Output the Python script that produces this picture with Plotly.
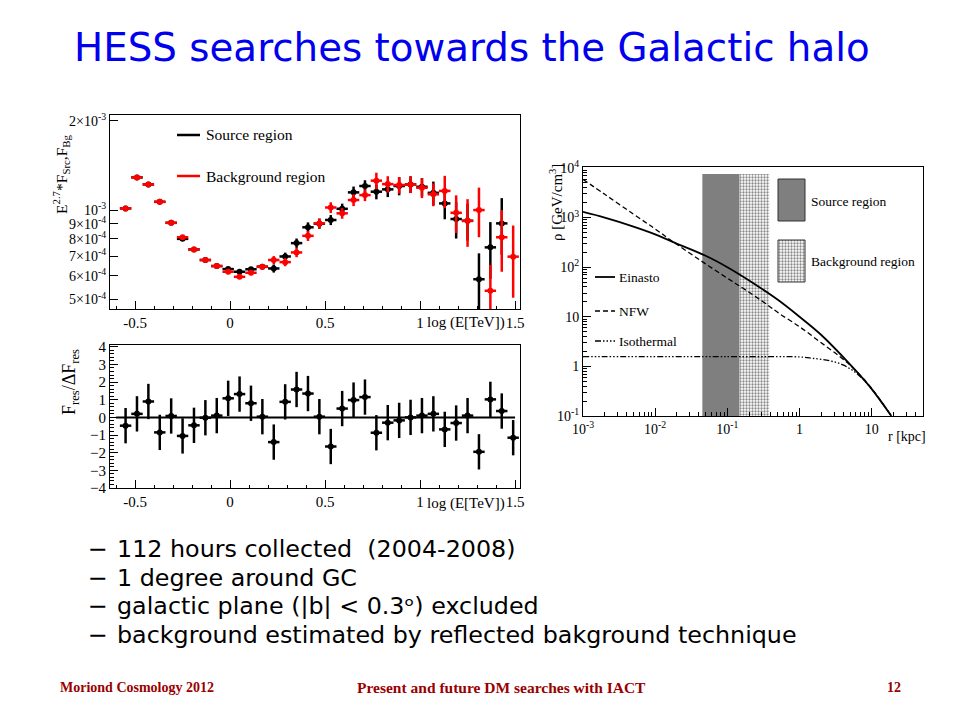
import plotly.graph_objects as go

# ---------------- data: spectrum (top-left) ----------------
log_e = [-0.55, -0.49, -0.43, -0.37, -0.31, -0.25, -0.19, -0.13, -0.07, -0.01,
         0.05, 0.11, 0.17, 0.23, 0.29, 0.35, 0.41, 0.47, 0.53, 0.59,
         0.65, 0.71, 0.77, 0.83, 0.89, 0.95, 1.01, 1.07, 1.13, 1.19,
         1.25, 1.31, 1.37, 1.43, 1.49]
# E^2.7 * F in units of 1e-4
src_flux = [10.13, 12.88, 12.2, 10.66, 9.06, 8.0, 7.37, 6.79, 6.48, 6.33,
            6.2, 6.32, 6.45, 6.36, 6.98, 7.74, 8.75, 9.0, 9.26, 10.1,
            11.47, 12.05, 11.53, 11.74, 12.05, 12.2, 11.98, 11.43, 10.53, 9.33,
            9.2, 5.85, 7.49, 9.02, None]
src_err = [0.07, 0.07, 0.07, 0.07, 0.07, 0.07, 0.07, 0.07, 0.07, 0.08,
           0.08, 0.08, 0.1, 0.2, 0.21, 0.28, 0.34, 0.35, 0.36, 0.41,
           0.53, 0.55, 0.66, 0.68, 0.84, 0.79, 0.83, 1.04, 1.22, 1.31,
           1.31, 1.3, 1.62, 1.95, None]
bg_flux = [10.13, 12.88, 12.2, 10.66, 9.06, 8.1, 7.37, 6.79, 6.48, 6.2,
           5.96, 6.15, 6.44, 6.79, 6.68, 7.2, 8.19, 9.02, 10.2, 9.75,
           10.81, 11.23, 12.56, 12.23, 12.14, 12.2, 11.89, 11.3, 11.6, 9.79,
           9.2, 10.0, 5.35, 8.1, 6.97]
bg_err = [0.07, 0.07, 0.07, 0.07, 0.07, 0.07, 0.07, 0.07, 0.07, 0.08,
          0.08, 0.08, 0.1, 0.21, 0.21, 0.26, 0.32, 0.35, 0.42, 0.40,
          0.50, 0.51, 0.80, 0.77, 0.78, 0.79, 0.92, 1.0, 1.44, 1.42,
          1.68, 1.9, 1.19, 1.9, 1.9]
bin_half_width = 0.03

# ---------------- data: residuals ----------------
resid = [-0.47, 0.2, 0.9, -0.85, 0.08, -1.05, -0.45, -0.02, 0.1, 1.08,
         1.32, 0.8, 0.04, -1.4, 0.88, 1.58, 1.35, 0.04, -1.65, 0.5,
         0.98, 1.15, -0.87, -0.3, -0.17, 0.0, 0.1, 0.2, -0.68, -0.32,
         0.1, -1.95, 1.02, 0.36, -1.15]
resid_err = [1, 1, 1, 1, 1, 1, 1, 1, 1, 1, 1, 1, 1, 1, 1, 1, 1, 1, 1, 1,
             1, 1, 1, 1, 1, 1, 1, 1, 1, 1, 1, 1, 1, 1, 1]
zero_line_x = [-0.6, 1.5]
zero_line_y = [0, 0]

# ---------------- data: halo profiles (right) ----------------
r_ein = [0.001, 0.002, 0.005, 0.01, 0.0174, 0.05, 0.1, 0.2, 0.5, 1, 2, 5, 9.4, 18.7]
rho_ein = [1300, 1000, 660, 460, 324, 170, 100, 54, 22, 10, 4.3, 1.1, 0.39, 0.1]
r_nfw = [0.001, 0.002, 0.005, 0.01, 0.0174, 0.043, 0.1, 0.148, 0.36, 0.52,
         1, 1.9, 3.6, 5.5, 9.4, 18.7]
rho_nfw = [5900, 2950, 1175, 590, 331, 135, 60, 41.7, 17.4, 11.7,
           6.3, 3.16, 1.58, 0.93, 0.40, 0.1]
r_iso = [0.001, 0.1, 1, 1.5, 2.6, 4.0, 6.2, 9.4, 18.7]
rho_iso = [1.57, 1.57, 1.55, 1.46, 1.30, 1.07, 0.72, 0.39, 0.1]
src_region_r = [0.045, 0.148]
bg_region_r = [0.148, 0.38]
region_rho = [0.1, 7600]

title_text = "HESS searches towards the Galactic halo"
bullets = ["112 hours collected \u00a0(2004-2008)",
           "1 degree around GC",
           "galactic plane (|b| &lt; 0.3\u1d52) excluded",
           "background estimated by reflected bakground technique"]
footer = ["Moriond Cosmology 2012", "Present and future DM searches with IACT", "12"]

# ---------------- layout helpers ----------------
# the page places the figure 8 px in from the window's top-left corner
OFF = 8
W, H = 960 - OFF, 720 - OFF
def px(x):
    return (x - OFF) / W
def py(y):
    return 1 - (y - OFF) / H

SERIF = "Liberation Serif"
fig = go.Figure()

def spec_trace(flux, err, color, name):
    return go.Scatter(
        x=log_e, y=[None if v is None else v * 1e-4 for v in flux],
        mode="markers", marker=dict(size=0, color=color), name=name,
        error_y=dict(type="data", array=[0 if e is None else e * 1e-4 for e in err],
                     color=color, thickness=2.5, width=0),
        error_x=dict(type="constant", value=bin_half_width, color=color,
                     thickness=2.5, width=0),
        xaxis="x", yaxis="y", showlegend=False, cliponaxis=True)

fig.add_trace(spec_trace(src_flux, src_err, "black", "Source region"))
fig.add_trace(spec_trace(bg_flux, bg_err, "#ff0000", "Background region"))

fig.add_trace(go.Scatter(x=zero_line_x, y=zero_line_y, mode="lines",
                         line=dict(color="black", width=2), xaxis="x2", yaxis="y2",
                         showlegend=False))
fig.add_trace(go.Scatter(
    x=log_e, y=resid, mode="markers", marker=dict(size=0, color="black"),
    error_y=dict(type="data", array=resid_err, color="black", thickness=2.5, width=0),
    error_x=dict(type="constant", value=bin_half_width, color="black", thickness=2.5, width=0),
    xaxis="x2", yaxis="y2", showlegend=False))

PATTERN = dict(shape=".", bgcolor="white", fgcolor="#111111", size=3, solidity=0.45)

# shaded regions
fig.add_trace(go.Scatter(
    x=[src_region_r[0], src_region_r[1], src_region_r[1], src_region_r[0], src_region_r[0]],
    y=[region_rho[0], region_rho[0], region_rho[1], region_rho[1], region_rho[0]],
    fill="toself", fillcolor="#7f7f7f", mode="lines", line=dict(width=0),
    xaxis="x3", yaxis="y3", showlegend=False))
fig.add_trace(go.Scatter(
    x=[bg_region_r[0], bg_region_r[1], bg_region_r[1], bg_region_r[0], bg_region_r[0]],
    y=[region_rho[0], region_rho[0], region_rho[1], region_rho[1], region_rho[0]],
    fill="toself", fillcolor="white", mode="lines", line=dict(width=0),
    fillpattern=PATTERN, xaxis="x3", yaxis="y3", showlegend=False))

ISO_DASH = "6px,2px,1.5px,2px,1.5px,2px,1.5px,2px"
fig.add_trace(go.Scatter(x=r_ein, y=rho_ein, mode="lines", line=dict(color="black", width=1.8, shape="spline"),
                         xaxis="x3", yaxis="y3", showlegend=False))
fig.add_trace(go.Scatter(x=r_nfw, y=rho_nfw, mode="lines",
                         line=dict(color="black", width=1.3, dash="5px,3px", shape="spline"),
                         xaxis="x3", yaxis="y3", showlegend=False))
fig.add_trace(go.Scatter(x=r_iso, y=rho_iso, mode="lines",
                         line=dict(color="black", width=1.3, dash=ISO_DASH, shape="spline"),
                         xaxis="x3", yaxis="y3", showlegend=False))

# right-panel legend (helper axes, 0..1 in the panel)
R_X0, R_X1, R_Y0, R_Y1 = 583, 923, 167, 416
def fx(x):
    return (x - R_X0) / (R_X1 - R_X0)
def fy(y):
    return (R_Y1 - y) / (R_Y1 - R_Y0)

fig.add_trace(go.Scatter(x=[fx(778), fx(805), fx(805), fx(778), fx(778)],
                         y=[fy(221), fy(221), fy(179), fy(179), fy(221)],
                         fill="toself", fillcolor="#7f7f7f", mode="lines",
                         line=dict(color="#333", width=1), xaxis="x4", yaxis="y4", showlegend=False))
fig.add_trace(go.Scatter(x=[fx(778), fx(805), fx(805), fx(778), fx(778)],
                         y=[fy(282), fy(282), fy(240), fy(240), fy(282)],
                         fill="toself", fillcolor="white", mode="lines", fillpattern=PATTERN,
                         line=dict(color="#333", width=1), xaxis="x4", yaxis="y4", showlegend=False))
for yy, dash, wd in [(277, "solid", 1.8), (311, "5px,3px", 1.3), (341, ISO_DASH, 1.3)]:
    fig.add_trace(go.Scatter(x=[fx(595), fx(615)], y=[fy(yy), fy(yy)], mode="lines",
                             line=dict(color="black", width=wd, dash=dash),
                             xaxis="x4", yaxis="y4", showlegend=False))

# ---------------- axes ----------------
tick_font = dict(family=SERIF, size=15, color="black")
tick_font_y = dict(family=SERIF, size=14, color="black")
tick_font_r = dict(family=SERIF, size=14, color="black")
common = dict(showline=True, linecolor="black", linewidth=1, mirror=True, showgrid=False,
              zeroline=False, ticks="inside", tickcolor="black", automargin=False)

TL_X = [px(110), px(520)]
fig.update_layout(
    xaxis=dict(domain=TL_X, range=[-0.632, 1.526], anchor="y", tickvals=[-0.5, 0, 0.5, 1, 1.5],
               ticktext=["-0.5", "0", "0.5", "1", "1.5"], ticklen=8, tickfont=tick_font,
               minor=dict(ticks="inside", dtick=0.1, ticklen=3, tickcolor="black"), **common),
    yaxis=dict(domain=[py(309), py(115)], type="log", range=[-3.333, -2.680], anchor="x",
               tickvals=[5e-4, 6e-4, 7e-4, 8e-4, 9e-4, 1e-3, 2e-3],
               ticktext=["5\u00d710<sup>-4</sup>", "6\u00d710<sup>-4</sup>", "7\u00d710<sup>-4</sup>",
                         "8\u00d710<sup>-4</sup>", "9\u00d710<sup>-4</sup>", "10<sup>-3</sup>",
                         "2\u00d710<sup>-3</sup>"], ticklen=8, tickfont=tick_font_y, **common),
    xaxis2=dict(domain=TL_X, range=[-0.632, 1.526], anchor="y2", tickvals=[-0.5, 0, 0.5, 1, 1.5],
                ticktext=["-0.5", "0", "0.5", "1", "1.5"], ticklen=8, tickfont=tick_font,
                minor=dict(ticks="inside", dtick=0.1, ticklen=3, tickcolor="black"), **common),
    yaxis2=dict(domain=[py(488), py(345)], range=[-4, 4.1], anchor="x2",
                tickvals=[-4, -3, -2, -1, 0, 1, 2, 3, 4], ticklen=8, tickfont=tick_font,
                minor=dict(ticks="inside", dtick=0.2, ticklen=4, tickcolor="black"), **common),
    xaxis3=dict(domain=[px(R_X0), px(R_X1)], type="log", range=[-3, 1.71], anchor="y3",
                tickvals=[1e-3, 1e-2, 1e-1, 1, 10], tickfont=tick_font_r,
                ticktext=["10<sup>-3</sup>", "10<sup>-2</sup>", "10<sup>-1</sup>", "1", "10"], ticklen=8,
                minor=dict(ticks="inside", ticklen=4, tickcolor="black", tickmode="array",
                           tickvals=[m * d for d in [1e-3, 1e-2, 1e-1, 1, 10] for m in range(2, 10)]),
                **common),
    yaxis3=dict(domain=[py(R_Y1), py(R_Y0)], type="log", range=[-1, 4.02], anchor="x3",
                tickvals=[0.1, 1, 10, 100, 1000, 10000], tickfont=tick_font_r,
                ticktext=["10<sup>-1</sup>", "1", "10", "10<sup>2</sup>", "10<sup>3</sup>", "10<sup>4</sup>"],
                ticklen=8,
                minor=dict(ticks="inside", ticklen=4, tickcolor="black", tickmode="array",
                           tickvals=[m * d for d in [0.1, 1, 10, 100, 1000] for m in range(2, 10)]),
                **common),
    xaxis4=dict(domain=[px(R_X0), px(R_X1)], range=[0, 1], visible=False, anchor="y4",
                overlaying="x3", fixedrange=True, automargin=False),
    yaxis4=dict(domain=[py(R_Y1), py(R_Y0)], range=[0, 1], visible=False, anchor="x4",
                overlaying="y3", fixedrange=True, automargin=False),
)

ann = []
def text(x, y, s, size, color="black", family=SERIF, xanchor="left", yanchor="middle", angle=0, **kw):
    ann.append(dict(x=x, y=y, xref="paper", yref="paper", text=s, showarrow=False,
                    font=dict(family=family, size=size, color=color), xanchor=xanchor,
                    yanchor=yanchor, textangle=angle, **kw))

# title
text(px(472), py(47), title_text, 38.8, color="#0000ee", family="DejaVu Sans", xanchor="center")

# top-left legend
fig.add_shape(type="line", xref="paper", yref="paper", x0=px(177), x1=px(200), y0=py(135), y1=py(135),
              line=dict(color="black", width=2.5))
fig.add_shape(type="line", xref="paper", yref="paper", x0=px(177), x1=px(200), y0=py(176), y1=py(176),
              line=dict(color="#ff0000", width=2.5))
text(px(204), py(135), "Source region", 15.5)
text(px(204), py(176), "Background region", 15.5)

# axis titles
text(px(61), py(174), "E<sup>2.7</sup>*F<sub>Src</sub>,F<sub>Bg</sub>", 15.5, xanchor="center", angle=-90)
text(px(507), py(322), "log (E[TeV])", 15, xanchor="right")
text(px(70), py(382), "F<sub>res</sub>/\u0394F<sub>res</sub>", 18, xanchor="center", angle=-90)
text(px(507), py(503), "log (E[TeV])", 15, xanchor="right")
text(px(556), py(203), "\u03c1 [GeV/cm<sup>3</sup>]", 15, xanchor="center", angle=-90)
text(px(928), py(437), "r [kpc]", 14, xanchor="right")

# right-panel legend texts
text(px(809), py(201), "Source region", 13.5)
text(px(809), py(262), "Background region", 13.5)
text(px(617), py(277), "Einasto", 13.5)
text(px(617), py(311), "NFW", 13.5)
text(px(617), py(341), "Isothermal", 13.5)

# bullets
for i, b in enumerate(bullets):
    yy = 549 + i * 28.5
    text(px(86), py(yy), "\u2212", 23.8, family="DejaVu Sans")
    text(px(115), py(yy), b, 23.8, family="DejaVu Sans")

# footer
text(px(58), py(687), "<b>" + footer[0] + "</b>", 14, color="#990000")
text(px(501), py(687), "<b>" + footer[1] + "</b>", 15.5, color="#990000", xanchor="center")
text(px(903), py(687), "<b>" + footer[2] + "</b>", 14, color="#990000", xanchor="right")

fig.update_layout(annotations=ann, width=W, height=H, margin=dict(l=0, r=0, t=0, b=0),
                  paper_bgcolor="white", plot_bgcolor="rgba(0,0,0,0)", showlegend=False)

fig.write_html("out.html")
